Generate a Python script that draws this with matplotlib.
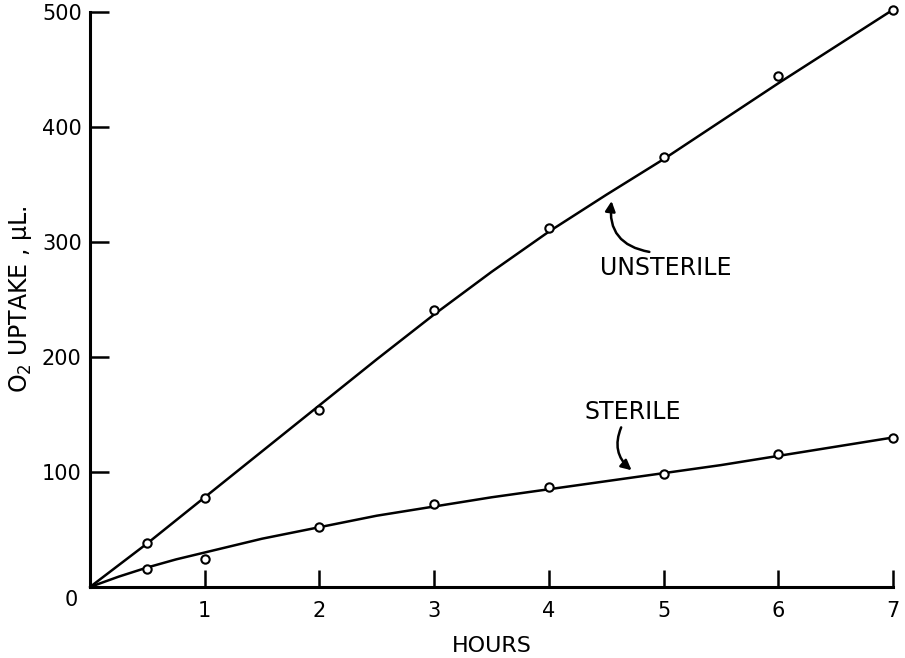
import matplotlib
matplotlib.use("Agg")
import matplotlib.pyplot as plt

# Measured points
hours_pts = [0.5, 1, 2, 3, 4, 5, 6, 7]
unsterile_pts = [38, 77, 154, 241, 312, 374, 444, 502]
sterile_pts = [16, 24, 52, 72, 87, 98, 116, 130]

# Hand-drawn fitted curves
unsterile_curve_x = [0, 0.5, 1, 1.5, 2, 2.5, 3, 3.5, 4, 4.5, 5, 5.5, 6, 6.5, 7]
unsterile_curve_y = [0, 38, 78, 118, 158, 198, 237, 274, 309, 341, 372, 405, 438, 470, 502]
sterile_curve_x = [0, 0.25, 0.5, 0.75, 1, 1.5, 2, 2.5, 3, 3.5, 4, 4.5, 5, 5.5, 6, 6.5, 7]
sterile_curve_y = [0, 9, 17, 24, 30, 42, 52, 62, 70, 78, 85, 92, 99, 106, 114, 122, 130]

x_ticks = [1, 2, 3, 4, 5, 6, 7]
y_ticks = [100, 200, 300, 400, 500]

fig = plt.figure(figsize=(9.05, 6.58), dpi=100)
ax = fig.add_axes([90 / 905, 1 - 587 / 658, (893 - 90) / 905, (587 - 12) / 658])

ax.plot(unsterile_curve_x, unsterile_curve_y, color="black", lw=1.8,
        solid_capstyle="round", clip_on=False)
ax.plot(sterile_curve_x, sterile_curve_y, color="black", lw=1.8,
        solid_capstyle="round", clip_on=False)
ax.plot(hours_pts, unsterile_pts, "o", ms=6, mfc="white", mec="black", mew=1.5,
        zorder=5, clip_on=False)
ax.plot(hours_pts, sterile_pts, "o", ms=6, mfc="white", mec="black", mew=1.5,
        zorder=5, clip_on=False)

ax.set_xlim(0, 7)
ax.set_ylim(0, 500)
ax.set_xticks(x_ticks)
ax.set_yticks(y_ticks)
ax.set_xticklabels([str(t) for t in x_ticks])
ax.set_yticklabels([str(t) for t in y_ticks])
ax.tick_params(axis="x", direction="in", length=12, width=1.8, pad=10, labelsize=15)
ax.tick_params(axis="y", direction="in", length=14, width=1.8, pad=6, labelsize=15)
for s in ["top", "right"]:
    ax.spines[s].set_visible(False)
for s in ["left", "bottom"]:
    ax.spines[s].set_linewidth(2.2)

ax.text(-0.11, -11, "0", ha="right", va="center", fontsize=15)

ax.set_xlabel("HOURS", fontsize=16, va="center")
ax.xaxis.set_label_coords(0.5, -0.103)
ax.set_ylabel("O$_2$ UPTAKE , μL.", fontsize=17, labelpad=6)

ax.text(5.02, 277, "UNSTERILE", ha="center", va="center", fontsize=17)
ax.annotate("", xy=(4.55, 338), xytext=(4.9, 291),
            arrowprops=dict(arrowstyle="-|>", color="black", lw=1.8,
                            connectionstyle="arc3,rad=-0.5", mutation_scale=15))
ax.text(4.73, 152, "STERILE", ha="center", va="center", fontsize=17)
ax.annotate("", xy=(4.74, 100), xytext=(4.64, 141),
            arrowprops=dict(arrowstyle="-|>", color="black", lw=1.8,
                            connectionstyle="arc3,rad=0.4", mutation_scale=15))

fig.savefig("out.png", dpi=100)
